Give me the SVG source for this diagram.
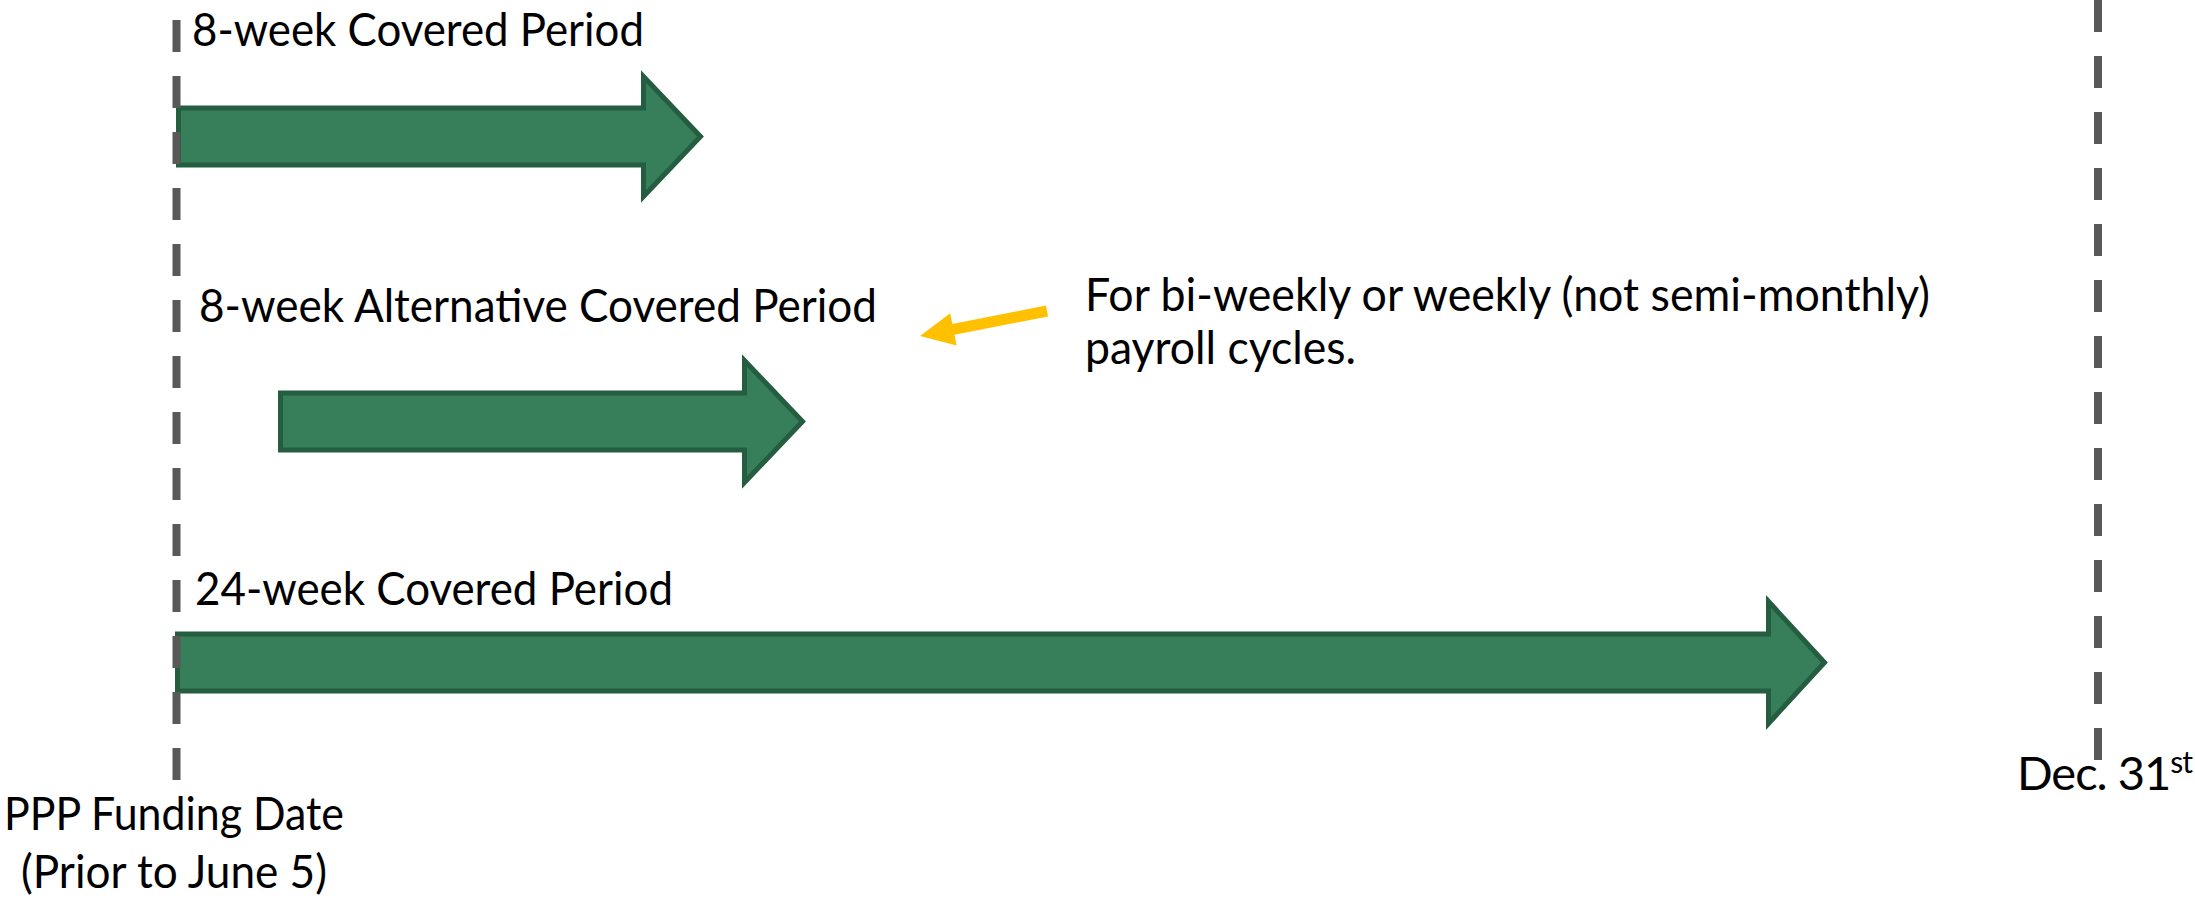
<svg xmlns="http://www.w3.org/2000/svg" width="2195" height="904" viewBox="0 0 2195 904">
  <style>
    .lbl { font-family: Lato, "Open Sans", "Liberation Sans", sans-serif; font-size: 47px; fill: #000000; }
    .bar { fill: #377F5A; stroke: #245D3F; stroke-width: 5; stroke-linejoin: miter; }
    .tl { stroke: #595959; stroke-width: 8; stroke-dasharray: 32 24; fill: none; }
    .callout { fill: #FFC000; }
  </style>
  <rect x="0" y="0" width="2195" height="904" fill="#FFFFFF"/>

  <g id="period-8-week">
    <path class="bar" d="M178.5,108 H643.5 V76.5 L700.5,136.5 L643.5,196.5 V165 H178.5 Z"/>
    <text class="lbl" x="192" y="46" textLength="452" lengthAdjust="spacingAndGlyphs">8-week Covered Period</text>
  </g>

  <g id="period-8-week-alternative">
    <path class="bar" d="M280.5,393 H744.5 V360.5 L802.5,421.5 L744.5,482.5 V450 H280.5 Z"/>
    <text class="lbl" x="199" y="322" textLength="678" lengthAdjust="spacingAndGlyphs">8-week Alternative Covered Period</text>
  </g>

  <g id="period-24-week">
    <path class="bar" d="M177.5,634 H1768.5 V601.5 L1824.5,662.5 L1768.5,723.5 V691 H177.5 Z"/>
    <text class="lbl" x="195" y="605" textLength="478" lengthAdjust="spacingAndGlyphs">24-week Covered Period</text>
  </g>

  <g id="funding-date">
    <line class="tl" x1="176.5" y1="20" x2="176.5" y2="780"/>
    <text class="lbl" x="174" y="830" text-anchor="middle" textLength="340" lengthAdjust="spacingAndGlyphs">PPP Funding Date</text>
    <text class="lbl" x="174" y="888" text-anchor="middle" textLength="306" lengthAdjust="spacingAndGlyphs">(Prior to June 5)</text>
  </g>

  <g id="dec-31">
    <line class="tl" x1="2098" y1="0" x2="2098" y2="760"/>
    <text class="lbl" x="2192" y="790" text-anchor="end" font-size="45" letter-spacing="-1">Dec. 31<tspan dy="-17" font-size="30">st</tspan></text>
  </g>

  <g id="note">
    <text class="lbl" x="1085" y="311" textLength="845" lengthAdjust="spacingAndGlyphs">For bi-weekly or weekly (not semi-monthly)</text>
    <text class="lbl" x="1085" y="364" textLength="271" lengthAdjust="spacingAndGlyphs">payroll cycles.</text>
  </g>

  <g id="connectors">
    <polygon class="callout" points="1045.9,305.6 952.3,324.0 950.2,313.2 920,336 956.6,345.6 954.5,334.8 1048.1,316.4"/>
  </g>
</svg>
